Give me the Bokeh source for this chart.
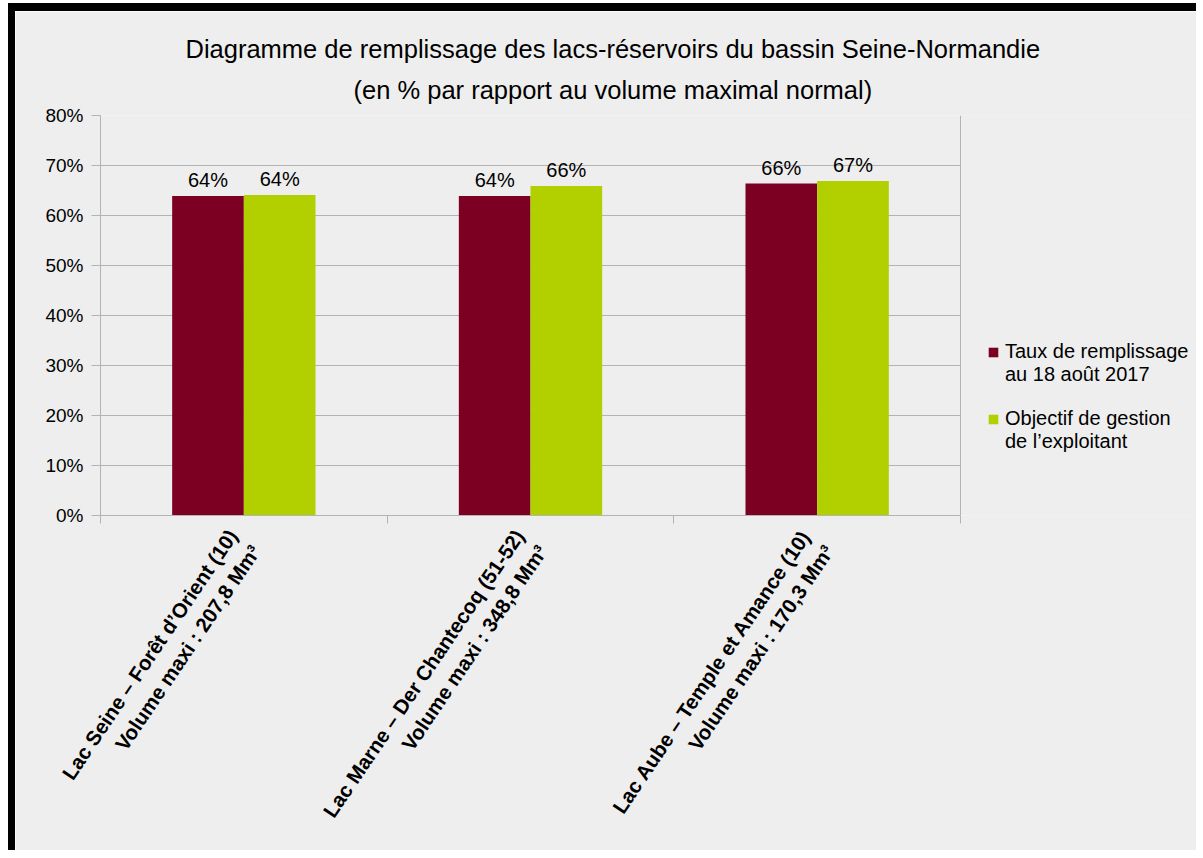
from bokeh.plotting import figure
from bokeh.models import (ColumnDataSource, FixedTicker, Legend, LegendItem,
                          Range1d, PrintfTickFormatter, Title, BoxAnnotation, Span)
from bokeh.transform import dodge
from bokeh.core.properties import value
from bokeh.embed import file_html
from bokeh.resources import INLINE

# ---- data ----
categories = [
    "Lac Seine – Forêt d’Orient (10)\nVolume maxi : 207,8 Mm³",
    "Lac Marne – Der Chantecoq (51-52)\nVolume maxi : 348,8 Mm³",
    "Lac Aube – Temple et Amance (10)\nVolume maxi : 170,3 Mm³",
]
series_names = ["Taux de remplissage\nau 18 août 2017",
                "Objectif de gestion\nde l’exploitant"]
taux = [63.9, 63.9, 66.4]
objectif = [64.1, 65.9, 66.9]
y_ticks = [0, 10, 20, 30, 40, 50, 60, 70, 80]
title_lines = ["Diagramme de remplissage des lacs-réservoirs du bassin Seine-Normandie",
               "(en % par rapport au volume maximal normal)"]

FONT = "Liberation Sans"
BG = "#eeeeee"
GRID = "#b3b3b3"
C1 = "#7b0022"
C2 = "#b2d000"

W, H = 1188, 847
LEFT, RIGHT, TOP, BOTTOM = 85, 3, 104, 343
PLOT_W = 860                      # width of the bar area inside the frame
n = len(categories)
frame_w = W - LEFT - RIGHT
x_end = n * frame_w / PLOT_W      # extra room on the right holds the legend

x_center = [i + 0.5 for i in range(n)]
src = ColumnDataSource(dict(
    x=x_center, taux=taux, obj=objectif,
    taux_lbl=[f"{round(v)}%" for v in taux],
    obj_lbl=[f"{round(v)}%" for v in objectif],
))

p = figure(width=W, height=H, output_backend="svg", toolbar_location=None,
           x_range=Range1d(0, x_end), y_range=Range1d(0, 80),
           min_border_left=LEFT, min_border_right=RIGHT, min_border_top=TOP,
           min_border_bottom=BOTTOM,
           background_fill_color=BG, border_fill_color=BG,
           outline_line_color=None)
p.styles = {"margin-left": "8px", "margin-top": "3px",
            "border-left": "7px solid black", "border-top": "8px solid black"}

r1 = p.vbar(x=dodge("x", -0.125), top="taux", width=0.25, source=src,
            fill_color=C1, line_color=None)
r2 = p.vbar(x=dodge("x", 0.125), top="obj", width=0.25, source=src,
            fill_color=C2, line_color=None)
# invisible renderer used for the legend's continuation lines (no swatch)
r_blank = p.vbar(x=[], top=[], width=0.25, fill_alpha=0, line_alpha=0)

for col, lbl, off in (("taux", "taux_lbl", -0.125), ("obj", "obj_lbl", 0.125)):
    p.text(x=dodge("x", off), y=col, text=lbl, source=src, y_offset=-16,
           text_align="center", text_baseline="alphabetic",
           text_font=value(FONT), text_font_size="20px", text_color="#000000")

# area right of the bars: plain background (legend area) + right border line
p.add_layout(BoxAnnotation(left=n, fill_color=BG, fill_alpha=1.0, line_color=None))
p.add_layout(Span(location=n, dimension="height", line_color=GRID, line_width=1))

# title, one Title per line (nearest the frame first)
p.title.visible = False
for line, off, so in ((title_lines[1], 253, 23), (title_lines[0], 85, 0)):
    p.add_layout(Title(text=line, align="left", offset=off, standoff=so,
                       text_font=FONT, text_font_size="25.5px",
                       text_font_style="normal", text_color="#000000"), "above")

# y axis
p.yaxis.ticker = FixedTicker(ticks=y_ticks)
p.yaxis.formatter = PrintfTickFormatter(format="%d%%")
p.yaxis.axis_line_color = GRID
p.yaxis.major_tick_line_color = GRID
p.yaxis.major_tick_out = 9
p.yaxis.major_tick_in = 0
p.yaxis.minor_tick_line_color = None
p.yaxis.major_label_standoff = 8
p.yaxis.major_label_text_font = FONT
p.yaxis.major_label_text_font_size = "19px"
p.yaxis.major_label_text_color = "#000000"

# x axis
p.xaxis.bounds = (0, n)
p.xaxis.ticker = FixedTicker(ticks=x_center, minor_ticks=list(range(n + 1)))
p.xaxis.major_label_overrides = {x: c for x, c in zip(x_center, categories)}
p.xaxis.axis_line_color = GRID
p.xaxis.major_tick_out = 0
p.xaxis.major_tick_in = 0
p.xaxis.minor_tick_out = 8
p.xaxis.minor_tick_in = 0
p.xaxis.minor_tick_line_color = GRID
p.xaxis.major_label_orientation = 0.977
p.xaxis.major_label_standoff = 16
p.xaxis.major_label_text_font = FONT
p.xaxis.major_label_text_font_size = "20.5px"
p.xaxis.major_label_text_font_style = "bold"
p.xaxis.major_label_text_color = "#000000"

p.xgrid.visible = False
p.ygrid.grid_line_color = GRID

# legend: each series label is split over two rows, swatch on the first row
s1a, s1b = series_names[0].split("\n")
s2a, s2b = series_names[1].split("\n")
items = [LegendItem(label=s1a, renderers=[r1]),
         LegendItem(label=s1b, renderers=[r_blank]),
         LegendItem(label=" ", renderers=[r_blank]),
         LegendItem(label=s2a, renderers=[r2]),
         LegendItem(label=s2b, renderers=[r_blank])]
legend = Legend(items=items, location=(PLOT_W + 27, 62), glyph_width=12, glyph_height=12,
                label_text_font=FONT, label_text_font_size="20px",
                label_text_color="#000000", label_standoff=6, label_height=21,
                background_fill_alpha=0, border_line_color=None,
                padding=0, margin=0, spacing=0)
p.add_layout(legend, "center")

open("out.html", "w").write(file_html(p, INLINE))
